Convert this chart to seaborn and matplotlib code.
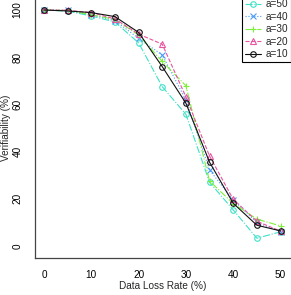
import matplotlib
matplotlib.use("Agg")
import matplotlib.pyplot as plt
import seaborn as sns
import pandas as pd

loss_rate = [0, 5, 10, 15, 20, 25, 30, 35, 40, 45, 50]
a50 = [100, 99.5, 97.5, 94.9, 86.1, 67.5, 55.8, 27.0, 15.3, 3.3, 6.0]
a40 = [100, 99.8, 98.0, 95.5, 88.0, 80.9, 61.9, 32.2, 19.5, 10.0, 6.0]
a30 = [100, 99.8, 98.0, 96.0, 89.4, 78.2, 67.9, 27.5, 18.0, 11.4, 8.5]
a20 = [100, 99.9, 98.9, 96.2, 89.8, 85.5, 63.2, 38.1, 19.8, 10.5, 6.3]
a10 = [100, 99.6, 98.9, 97.2, 90.5, 76.0, 60.5, 35.5, 18.1, 8.8, 6.4]
labels = ["a=50", "a=40", "a=30", "a=20", "a=10"]

series = [a50, a40, a30, a20, a10]
colors = ["#3fe0c8", "#4a9cf5", "#7cf03a", "#e8559f", "#111111"]
styles = ["-.", ":", "-.", "--", "-"]
markers = ["o", "x", "+", "^", "o"]

sns.set_style("white")
plt.rcParams['font.family'] = ['Liberation Sans', 'DejaVu Sans']

fig = plt.figure(figsize=(2.91, 2.95), dpi=100)
W, H = 291, 295
x0, x1 = 34.5, 290.0
y_top, y_bot = -1.8, 257.8
ax = fig.add_axes([x0 / W, 1 - y_bot / H, (x1 - x0) / W, (y_bot - y_top) / H])

for vals, lab, c, ls, mk in zip(series, labels, colors, styles, markers):
    df = pd.DataFrame({"x": loss_rate, "y": vals})
    sns.lineplot(data=df, x="x", y="y", ax=ax, color=c, linestyle=ls,
                 marker=mk, markersize=4, markerfacecolor="none",
                 markeredgecolor=c, markeredgewidth=0.8, linewidth=0.8,
                 label=lab)

ax.set_xlim(-2, 52)
ax.set_ylim(-5, 105)
ax.set_xticks([0, 10, 20, 30, 40, 50])
ax.set_yticks([0, 20, 40, 60, 80, 100])
ax.set_yticklabels(["0", "20", "40", "60", "80", "100"], rotation=90, va="center")
ax.set_xlabel("Data Loss Rate (%)", fontsize=7.2, labelpad=1)
ax.set_ylabel("Verifiability (%)", fontsize=7.2, labelpad=1)
ax.tick_params(axis="both", direction="out", length=3.5, width=0.8,
               labelsize=7.2, colors="#333333", labelcolor="black")
ax.tick_params(axis="x", pad=5)
ax.tick_params(axis="y", pad=5)
for s in ["top", "right"]:
    ax.spines[s].set_visible(False)
for s in ["left", "bottom"]:
    ax.spines[s].set_color("#444444")
    ax.spines[s].set_linewidth(0.9)

leg = ax.legend(loc="upper right", bbox_to_anchor=(1.005, 1.0 + 1.8 / (y_bot - y_top)),
                fontsize=7.2, frameon=True, fancybox=False, framealpha=1,
                edgecolor="black", borderpad=0.3, labelspacing=0.25,
                handlelength=1.6, handletextpad=0.5, borderaxespad=0)
leg.get_frame().set_linewidth(0.8)

fig.savefig("out.png", dpi=100)
